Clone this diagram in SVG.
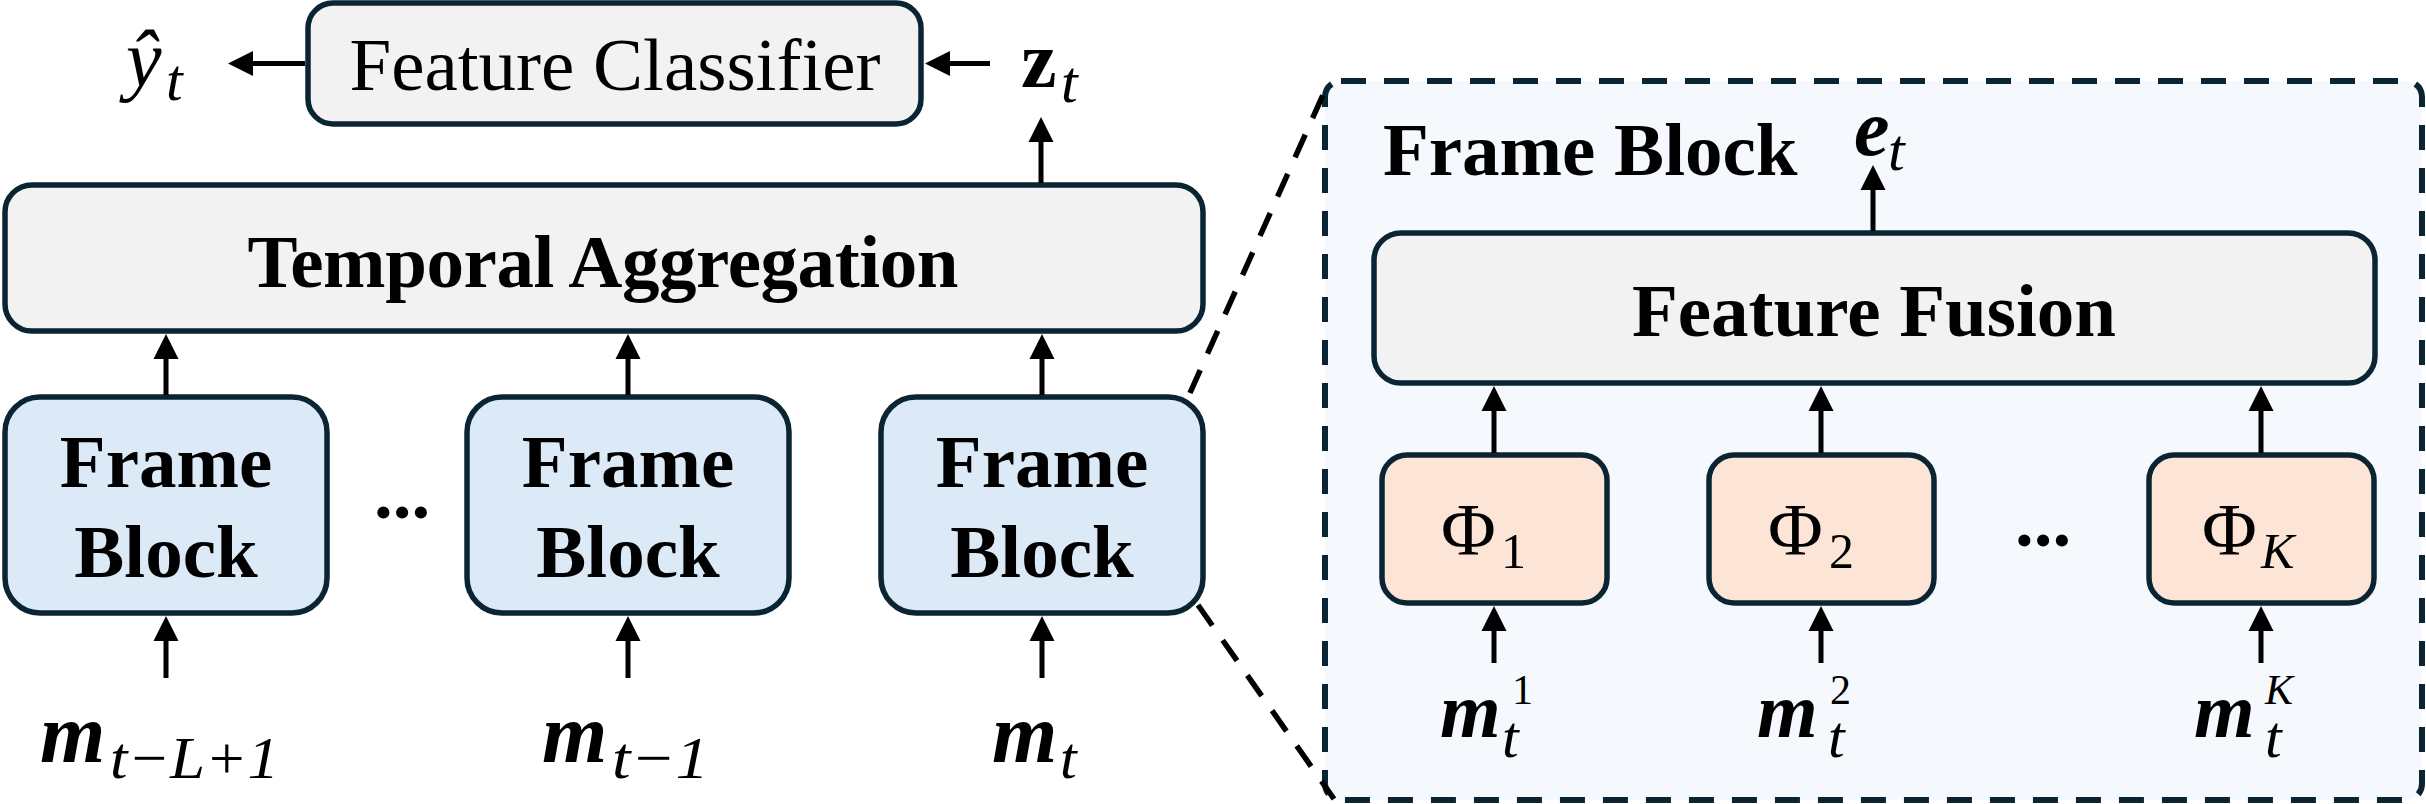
<svg xmlns="http://www.w3.org/2000/svg" width="2426" height="804" viewBox="0 0 2426 804">
<defs>
<marker id="ah" markerUnits="userSpaceOnUse" markerWidth="26" markerHeight="26" viewBox="0 -13 26 26" refX="1" refY="0" orient="auto"><path d="M0,-12.5 L25,0 L0,12.5 Z" fill="#000"/></marker>
</defs>
<style>
.box{stroke:#0a2433;stroke-width:5.5}
.gray{fill:#f2f2f2}
.blue{fill:#dce9f6}
.peach{fill:#fce4d6}
.t{font-family:"Liberation Serif","Times New Roman",serif;fill:#000;font-size:75px}
.b{font-weight:bold}
.m{font-style:italic;font-weight:bold}
.i{font-style:italic}
.s{font-size:60px}
.big{font-size:84px}
.conn line{stroke:#000;stroke-width:5;marker-end:url(#ah)}
.dash{stroke:#000;stroke-width:5.5;stroke-dasharray:25 18;fill:none}
</style>

<g id="zoom-panel">
<rect x="1325" y="81" width="1097" height="719" rx="16" fill="#f5f9fd" stroke="#0a2433" stroke-width="6" stroke-dasharray="25 18"/>
<text class="t b" x="1383" y="175">Frame Block</text>
</g>

<g id="zoom-lines">
<line class="dash" x1="1190" y1="393" x2="1326" y2="88"/>
<line class="dash" x1="1198" y1="605" x2="1334" y2="799"/>
</g>

<g id="feature-classifier">
<rect class="box gray" x="308" y="3" width="613" height="121" rx="25"/>
<text class="t" x="615" y="90" text-anchor="middle">Feature Classifier</text>
</g>

<g id="y-hat">
<text class="t i" x="126" y="86" style="font-size:80px">ŷ</text><text class="t i s" x="166" y="100">t</text>
</g>
<g id="z-t">
<text class="t b" x="1021" y="87" style="font-size:80px">z</text><text class="t i s" x="1061" y="102">t</text>
</g>

<g id="temporal-aggregation">
<rect class="box gray" x="5" y="185" width="1198" height="146" rx="27"/>
<text class="t b" x="603" y="287" text-anchor="middle" textLength="711" lengthAdjust="spacing">Temporal Aggregation</text>
</g>

<g id="frame-block-1">
<rect class="box blue" x="5" y="397" width="322" height="216" rx="35"/>
<text class="t b" x="166" y="487" text-anchor="middle">Frame</text>
<text class="t b" x="166" y="577" text-anchor="middle">Block</text>
</g>
<g id="frame-block-2">
<rect class="box blue" x="467" y="397" width="322" height="216" rx="35"/>
<text class="t b" x="628" y="487" text-anchor="middle">Frame</text>
<text class="t b" x="628" y="577" text-anchor="middle">Block</text>
</g>
<g id="frame-block-3">
<rect class="box blue" x="881" y="397" width="322" height="216" rx="35"/>
<text class="t b" x="1042" y="487" text-anchor="middle">Frame</text>
<text class="t b" x="1042" y="577" text-anchor="middle">Block</text>
</g>
<g id="ellipsis-1"><text class="t b" x="402" y="518" text-anchor="middle">...</text></g>

<g id="m-labels">
<text class="t m big" x="40" y="762">m</text><text class="t i s" x="110" y="778" textLength="169" lengthAdjust="spacingAndGlyphs">t−L+1</text>
<text class="t m big" x="542" y="762">m</text><text class="t i s" x="612" y="778" textLength="97" lengthAdjust="spacingAndGlyphs">t−1</text>
<text class="t m big" x="992" y="762">m</text><text class="t i s" x="1060" y="778">t</text>
</g>

<g id="e-t">
<text class="t m" x="1854" y="155" style="font-size:80px">e</text><text class="t i s" x="1888" y="170">t</text>
</g>

<g id="feature-fusion">
<rect class="box gray" x="1374" y="233" width="1001" height="150" rx="27"/>
<text class="t b" x="1874" y="336" text-anchor="middle">Feature Fusion</text>
</g>

<g id="phi-1">
<rect class="box peach" x="1382" y="455" width="225" height="148" rx="25"/>
<text class="t" x="1441" y="555">Φ</text><text class="t" x="1501" y="568" style="font-size:50px">1</text>
</g>
<g id="phi-2">
<rect class="box peach" x="1709" y="455" width="225" height="148" rx="25"/>
<text class="t" x="1768" y="555">Φ</text><text class="t" x="1829" y="568" style="font-size:50px">2</text>
</g>
<g id="phi-k">
<rect class="box peach" x="2149" y="455" width="225" height="148" rx="25"/>
<text class="t" x="2202" y="555">Φ</text><text class="t i" x="2261" y="568" style="font-size:50px">K</text>
</g>
<g id="ellipsis-2"><text class="t b" x="2043" y="546" text-anchor="middle">...</text></g>

<g id="mk-labels">
<text class="t m" x="1440" y="737" style="font-size:78px">m</text><text class="t" x="1512" y="704" style="font-size:42px">1</text><text class="t i s" x="1502" y="757">t</text>
<text class="t m" x="1757" y="737" style="font-size:78px">m</text><text class="t" x="1830" y="704" style="font-size:42px">2</text><text class="t i s" x="1828" y="757">t</text>
<text class="t m" x="2194" y="737" style="font-size:78px">m</text><text class="t i" x="2265" y="704" style="font-size:42px">K</text><text class="t i s" x="2265" y="757">t</text>
</g>

<g id="connectors" class="conn">
<line x1="305" y1="63.5" x2="252" y2="63.5"/>
<line x1="990" y1="63.5" x2="949" y2="63.5"/>
<line x1="1041" y1="183" x2="1041" y2="141"/>
<line x1="166" y1="395" x2="166" y2="358"/>
<line x1="628" y1="395" x2="628" y2="358"/>
<line x1="1042" y1="395" x2="1042" y2="358"/>
<line x1="166" y1="678" x2="166" y2="640"/>
<line x1="628" y1="678" x2="628" y2="640"/>
<line x1="1042" y1="678" x2="1042" y2="640"/>
<line x1="1873" y1="231" x2="1873" y2="189"/>
<line x1="1494" y1="453" x2="1494" y2="410"/>
<line x1="1821" y1="453" x2="1821" y2="410"/>
<line x1="2261" y1="453" x2="2261" y2="410"/>
<line x1="1494" y1="663" x2="1494" y2="630"/>
<line x1="1821" y1="663" x2="1821" y2="630"/>
<line x1="2261" y1="663" x2="2261" y2="630"/>
</g>
</svg>
